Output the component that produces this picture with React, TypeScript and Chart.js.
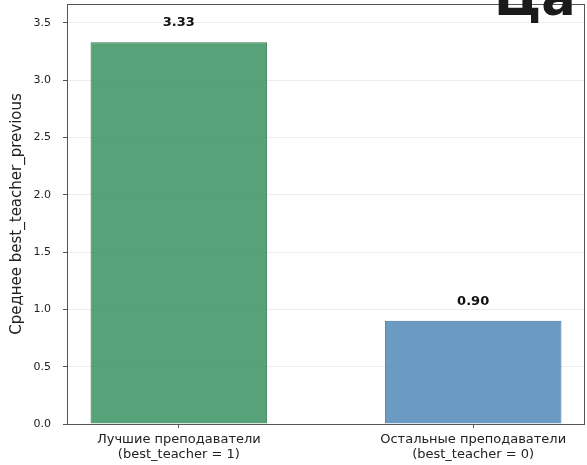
import React, { useEffect, useRef } from "react";
import { Chart, registerables } from "chart.js";

Chart.register(...registerables);

const categories: string[][] = [
  ["Лучшие преподаватели", "(best_teacher = 1)"],
  ["Остальные преподаватели", "(best_teacher = 0)"],
];
const values: number[] = [3.33, 0.9];
const barColors: string[] = ["rgba(46,139,87,0.8)", "rgba(70,130,180,0.8)"];
const barEdges: string[] = ["rgba(36,110,68,0.9)", "rgba(55,105,150,0.9)"];
const yTicks: number[] = [0, 0.5, 1.0, 1.5, 2.0, 2.5, 3.0, 3.5];
const yLabel = "Среднее best_teacher_previous";
const titleText = "Ца";

const FONT = "'DejaVu Sans', sans-serif";

export default function App() {
  const ref = useRef<HTMLCanvasElement | null>(null);
  useEffect(() => {
    if (!ref.current) return;
    const framePlugin = {
      id: "frame",
      beforeDraw(chart: any) {
        const ctx = chart.ctx;
        ctx.save();
        ctx.fillStyle = "#ffffff";
        ctx.fillRect(0, 0, chart.width, chart.height);
        ctx.restore();
      },
      afterDatasetsDraw(chart: any) {
        const ctx = chart.ctx;
        const a = chart.chartArea;
        ctx.save();
        ctx.strokeStyle = "#555555";
        ctx.lineWidth = 1;
        ctx.strokeRect(Math.round(a.left) + 0.5, Math.round(a.top) + 0.5, Math.round(a.right - a.left) - 1, Math.round(a.bottom - a.top));
        // value labels
        const meta = chart.getDatasetMeta(0);
        ctx.fillStyle = "#111111";
        ctx.font = "bold 13px " + FONT;
        ctx.textAlign = "center";
        ctx.textBaseline = "bottom";
        meta.data.forEach((bar: any, i: number) => {
          ctx.fillText(values[i].toFixed(2), bar.x, bar.y - 13);
        });
        // cut-off title
        ctx.font = "bold 51px " + FONT;
        ctx.textAlign = "left";
        ctx.textBaseline = "alphabetic";
        ctx.fillStyle = "#1a1a1a";
        ctx.fillText(titleText, 494, 15);
        ctx.restore();
      },
    };

    const chart = new Chart(ref.current, {
      type: "bar",
      data: {
        datasets: [
          {
            data: values.map((v, i) => ({ x: i, y: v })),
            backgroundColor: barColors,
            borderColor: barEdges,
            borderWidth: 1,
            categoryPercentage: 0.6,
            barPercentage: 1,
          },
        ],
      },
      options: {
        responsive: false,
        animation: false,
        layout: { padding: { top: 4, right: 2, left: 0, bottom: 0 } },
        plugins: { legend: { display: false }, tooltip: { enabled: false } },
        scales: {
          x: {
            type: "linear",
            min: -0.38,
            max: 1.38,
            offset: false,
            afterBuildTicks: (scale: any) => {
              scale.ticks = categories.map((_, i) => ({ value: i }));
            },
            afterFit: (scale: any) => {
              scale.height = 41;
              scale.paddingLeft = 0;
              scale.paddingRight = 0;
            },
            border: { display: false },
            grid: {
              offset: false,
              drawOnChartArea: false,
              drawTicks: true,
              tickLength: 4,
              tickColor: "#555555",
            },
            ticks: {
              callback: (v: any) => categories[Number(v)] ?? "",
              color: "#222222",
              font: { family: FONT, size: 13, lineHeight: 1.15 },
              padding: 4,
              maxRotation: 0,
              autoSkip: false,
            },
          },
          y: {
            type: "linear",
            min: 0,
            max: 3.663,
            afterBuildTicks: (scale: any) => {
              scale.ticks = yTicks.map((v) => ({ value: v }));
            },
            afterFit: (scale: any) => {
              scale.width = 67;
              scale.paddingTop = 0;
              scale.paddingBottom = 0;
            },
            border: { display: false },
            grid: {
              color: "rgba(0,0,0,0.07)",
              drawTicks: true,
              tickLength: 4,
              tickColor: "#555555",
            },
            ticks: {
              callback: (v: any) => Number(v).toFixed(1),
              color: "#222222",
              font: { family: FONT, size: 11 },
              padding: 12,
            },
            title: {
              display: true,
              text: yLabel,
              color: "#222222",
              font: { family: FONT, size: 15 },
              padding: { top: 8, bottom: 0 },
            },
          },
        },
      },
      plugins: [framePlugin],
    } as any);
    return () => chart.destroy();
  }, []);
  return (
    <canvas
      ref={ref}
      width={587}
      height={465}
      style={{ position: "absolute", left: 0, top: 0, display: "block" }}
    />
  );
}
